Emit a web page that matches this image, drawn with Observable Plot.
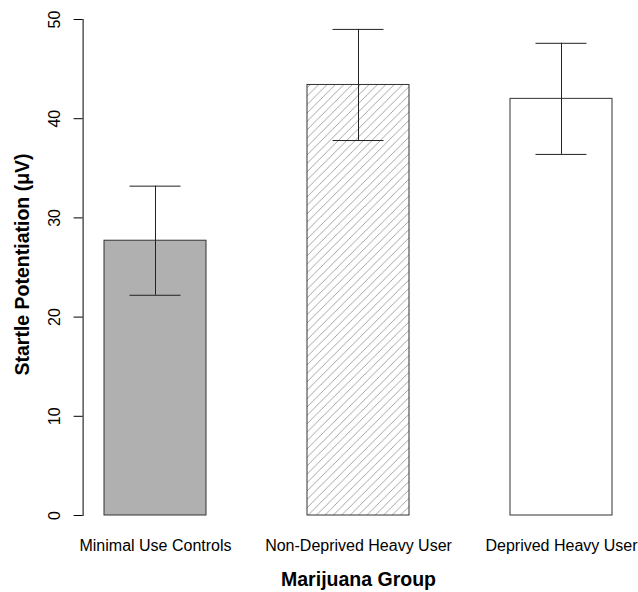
<!DOCTYPE html>
<html>
<head>
<meta charset="utf-8">
<script src="https://cdn.jsdelivr.net/npm/d3@7"></script>
<script src="https://cdn.jsdelivr.net/npm/@observablehq/plot@0.6"></script>
<style>
  html, body { margin: 0; padding: 0; background: #fff; overflow: hidden; }
  #chart svg { display: block; }
</style>
</head>
<body>
<div id="chart"></div>
<script>
const groups = ["Minimal Use Controls", "Non-Deprived Heavy User", "Deprived Heavy User"];
const means = [27.7, 43.4, 42.0];
const lower = [22.2, 37.8, 36.4];
const upper = [33.2, 49.0, 47.6];
const fills = ["#b0b0b0", "url(#hatch)", "#ffffff"];
const yTicks = [0, 10, 20, 30, 40, 50];

const data = groups.map((g, i) => ({group: g, mean: means[i], lo: lower[i], hi: upper[i], fill: fills[i]}));

const font = "'Liberation Sans', Arial, Helvetica, sans-serif";

const chart = Plot.plot({
  width: 638,
  height: 592,
  marginLeft: 82.6,
  marginRight: 4.6,
  marginTop: 19,
  marginBottom: 77,
  style: {fontFamily: font, fontSize: "16px", color: "#000", background: "#fff"},
  x: {domain: groups, paddingInner: 0.5, paddingOuter: 0.1, axis: null},
  y: {domain: [0, 50], axis: null},
  color: {type: "identity"},
  marks: [
    Plot.barY(data, {x: "group", y: "mean", fill: "fill", stroke: "#333", strokeWidth: 1}),
    Plot.ruleX(data, {x: "group", y1: "lo", y2: "hi", stroke: "#222", strokeWidth: 1}),
    Plot.tickY(data, {x: "group", y: "lo", stroke: "#222", strokeWidth: 1, insetLeft: 25.5, insetRight: 25.5}),
    Plot.tickY(data, {x: "group", y: "hi", stroke: "#222", strokeWidth: 1, insetLeft: 25.5, insetRight: 25.5}),
    Plot.frame({anchor: "left", stroke: "#000"}),
    Plot.axisY(yTicks, {tickSize: 9, tickRotate: -90, tickPadding: 14, fontSize: 16, stroke: "#000", color: "#000"}),
    Plot.axisX(groups, {tickSize: 0, tickPadding: 24, fontSize: 16, label: null, color: "#000"}),
    Plot.text(["Marijuana Group"], {frameAnchor: "bottom", dy: 64, lineAnchor: "middle", fontSize: 19.5, fontWeight: "bold", fill: "#000"}),
    Plot.text(["Startle Potentiation (\u03bcV)"], {frameAnchor: "left", dx: -60.6, dy: -3, rotate: -90, lineAnchor: "middle", textAnchor: "middle", fontSize: 19.5, fontWeight: "bold", fill: "#000"})
  ]
});

const ns = "http://www.w3.org/2000/svg";
const defs = document.createElementNS(ns, "defs");
const pat = document.createElementNS(ns, "pattern");
pat.setAttribute("id", "hatch");
pat.setAttribute("patternUnits", "userSpaceOnUse");
pat.setAttribute("width", "8.4");
pat.setAttribute("height", "8.4");
const p = document.createElementNS(ns, "path");
p.setAttribute("d", "M-2.1,2.1 L2.1,-2.1 M0,8.4 L8.4,0 M6.3,10.5 L10.5,6.3");
p.setAttribute("stroke", "#9a9a9a");
p.setAttribute("stroke-width", "0.9");
p.setAttribute("fill", "none");
pat.appendChild(p);
defs.appendChild(pat);
chart.insertBefore(defs, chart.firstChild);

document.getElementById("chart").appendChild(chart);
</script>
</body>
</html>
